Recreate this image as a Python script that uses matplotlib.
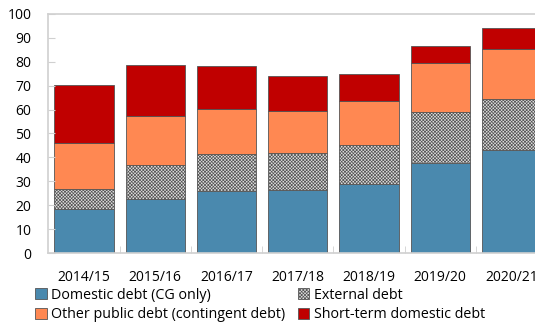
import matplotlib.pyplot as plt
import numpy as np

plt.rcParams['font.family'] = ['Open Sans', 'DejaVu Sans']

years = ['2014/15', '2015/16', '2016/17', '2017/18', '2018/19', '2019/20', '2020/21']
domestic = [18.5, 22.7, 26.1, 26.4, 28.9, 37.8, 43.1]
external = [8.4, 14.2, 15.2, 15.3, 16.4, 21.3, 21.3]
other_public = [19.2, 20.4, 18.8, 17.7, 18.4, 20.4, 21.1]
short_term = [24.3, 21.4, 18.0, 14.8, 11.3, 7.2, 8.6]

fig = plt.figure(figsize=(5.35, 3.24), dpi=100)
ax = fig.add_axes([0.0897, 0.219, 0.9103, 0.738])

x = np.arange(len(years))
w = 0.83
edge = '#555555'

plt.rcParams['hatch.color'] = '#a0a0a0'
plt.rcParams['hatch.linewidth'] = 0.5

b1 = ax.bar(x, domestic, w, color='#4a89ae', edgecolor=edge, linewidth=0.6,
            label='Domestic debt (CG only)')
bottom = np.array(domestic)
b2 = ax.bar(x, external, w, bottom=bottom, color='#dedede', edgecolor=edge,
            linewidth=0.6, hatch='xxxxxxxxxx', label='External debt')
bottom = bottom + np.array(external)
b3 = ax.bar(x, other_public, w, bottom=bottom, color='#ff8852', edgecolor=edge,
            linewidth=0.6, label='Other public debt (contingent debt)')
bottom = bottom + np.array(other_public)
b4 = ax.bar(x, short_term, w, bottom=bottom, color='#c00000', edgecolor=edge,
            linewidth=0.6, label='Short-term domestic debt')

ax.set_ylim(0, 100)
ax.set_xlim(-0.505, 6.33)
ax.set_yticks(np.arange(0, 101, 10))
ax.set_xticks(x)
ax.set_xticklabels(years)
ax.set_xticks(x[:-1] + 0.5, minor=True)

for s in ['left', 'bottom', 'top']:
    ax.spines[s].set_color('#d0d0d0')
    ax.spines[s].set_linewidth(1.2)
ax.spines['right'].set_visible(False)

ax.tick_params(axis='y', labelsize=10, direction='in', length=5, color='#d0d0d0', pad=12)
ax.tick_params(axis='x', which='major', labelsize=10, length=0, pad=12)
ax.tick_params(axis='x', which='minor', direction='in', length=5, color='#d0d0d0')

# two rows: domestic / external on top, other public / short-term below
handles = [b1, b3, b2, b4]
labels = [h.get_label() for h in handles]
fig.legend(handles, labels, ncol=2, loc='lower left', bbox_to_anchor=(0.055, -0.012),
           frameon=False, fontsize=10.3, handlelength=0.8, handleheight=0.8,
           handletextpad=0.3, columnspacing=0.9, labelspacing=0.3, borderaxespad=0)

fig.savefig('out.png', dpi=100)
